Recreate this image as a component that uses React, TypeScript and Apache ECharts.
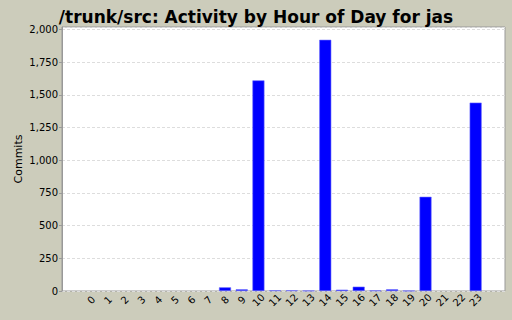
import React, { useEffect, useRef } from "react";
import * as echarts from "echarts";

const hours: string[] = Array.from({ length: 24 }, (_, i) => String(i));
const commits: number[] = [
  0, 0, 0, 0, 0, 0, 0, 0, 28, 13, 1610, 5, 5, 2, 1920, 10, 33, 4, 13, 1, 720, 0, 0, 1440,
];
const yTicks = { min: 0, max: 2018, interval: 250 };
const titleText = "/trunk/src: Activity by Hour of Day for jas";
const yName = "Commits";

export default function App() {
  const ref = useRef<HTMLDivElement>(null);
  useEffect(() => {
    if (!ref.current) return;
    const chart = echarts.init(ref.current, undefined, { renderer: "svg" });
    const font = "'DejaVu Sans', Verdana, sans-serif";
    chart.setOption({
      animation: false,
      backgroundColor: "#CCCCBB",
      title: {
        text: titleText,
        left: "center",
        top: 3,
        textStyle: { fontSize: 17, fontWeight: "bold", fontFamily: font, color: "#000" },
      },
      grid: [
        {
          left: 62,
          right: 7,
          top: 27,
          bottom: 29,
          show: true,
          backgroundColor: "#ffffff",
          borderColor: "#999999",
          borderWidth: 1,
        },
        { left: 83, right: 28, top: 27, bottom: 29 },
      ],
      xAxis: [
        { gridIndex: 0, type: "value", show: false, min: 0, max: 1 },
        {
          gridIndex: 1,
          type: "category",
          data: hours,
          axisLine: { show: false },
          axisTick: { show: false },
          axisLabel: {
            interval: 0,
            rotate: 45,
            align: "center",
            verticalAlign: "middle",
            margin: 9,
            fontSize: 10,
            fontFamily: font,
            color: "#000",
          },
        },
      ],
      yAxis: [
        {
          gridIndex: 0,
          type: "value",
          min: yTicks.min,
          max: yTicks.max,
          interval: yTicks.interval,
          name: yName,
          nameLocation: "middle",
          nameGap: 38,
          nameMoveOverlap: false,
          nameTextStyle: { fontSize: 11, fontFamily: font, color: "#000" },
          axisLine: { show: true, lineStyle: { color: "#999999" } },
          axisTick: { show: true, length: 3, lineStyle: { color: "#999999" } },
          axisLabel: {
            showMaxLabel: false,
            fontSize: 10,
            fontFamily: font,
            color: "#000",
            margin: 4,
            formatter: (v: number) => v.toLocaleString("en-US"),
          },
          splitLine: { show: true, lineStyle: { color: "#dddddd", type: [3, 2] } },
        },
        {
          gridIndex: 1,
          type: "value",
          min: yTicks.min,
          max: yTicks.max,
          show: false,
          splitLine: { show: false },
        },
      ],
      series: [
        {
          type: "bar",
          xAxisIndex: 1,
          yAxisIndex: 1,
          data: commits.map((v) => (v === 0 ? null : v)),
          barWidth: 12,
          itemStyle: { color: "#0000ff", borderColor: "#6666ff", borderWidth: 0.6 },
        },
      ],
    });
    return () => chart.dispose();
  }, []);
  return (
    <div
      ref={ref}
      style={{ position: "fixed", left: 0, top: 0, width: 512, height: 320 }}
    />
  );
}
